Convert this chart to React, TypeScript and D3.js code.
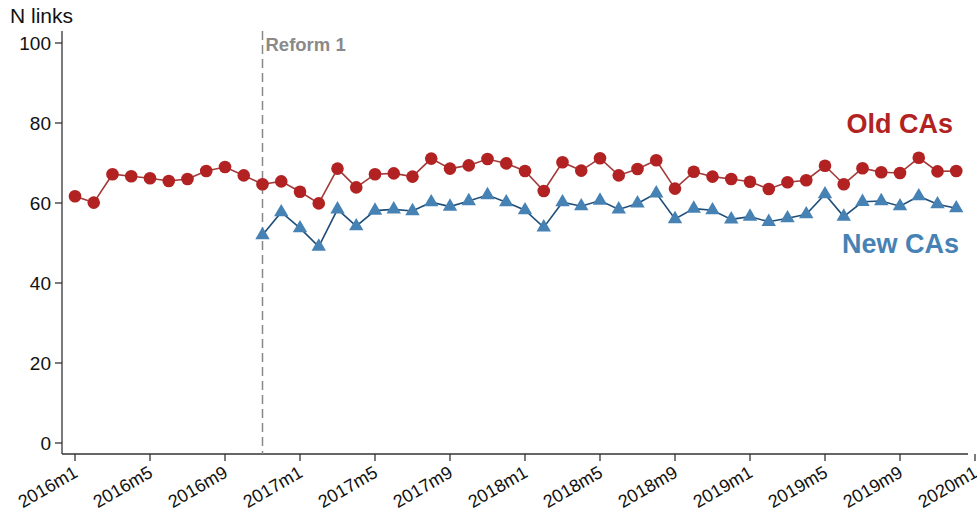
import React, { useEffect, useRef } from "react";
import * as d3 from "d3";

// month index 0 = 2016m1
const tickLabels = ["2016m1", "2016m5", "2016m9", "2017m1", "2017m5", "2017m9", "2018m1", "2018m5", "2018m9", "2019m1", "2019m5", "2019m9", "2020m1"];
const yTicks = [0, 20, 40, 60, 80, 100];

const oldCAs = [
  61.7, 60.1, 67.2, 66.7, 66.2, 65.5, 66.0, 68.0, 69.0, 66.9,
  64.7, 65.4, 62.8, 59.9, 68.6, 63.9, 67.2, 67.4, 66.6, 71.1,
  68.6, 69.4, 71.0, 69.9, 68.0, 63.0, 70.2, 68.1, 71.2, 66.9,
  68.5, 70.7, 63.6, 67.8, 66.6, 66.0, 65.3, 63.5, 65.2, 65.7,
  69.3, 64.7, 68.7, 67.7, 67.5, 71.3, 67.9, 68.0,
];

// New CAs start at 2016m11 (reform 1)
const newStart = 10;
const newCAs = [
  52.0, 57.7, 53.7, 49.1, 58.4, 54.2, 58.1, 58.4, 58.0, 60.2,
  59.1, 60.5, 62.0, 60.2, 58.2, 53.9, 60.2, 59.2, 60.6, 58.4,
  59.9, 62.4, 56.0, 58.6, 58.2, 55.9, 56.6, 55.3, 56.2, 57.2,
  62.2, 56.6, 60.3, 60.5, 59.2, 61.7, 59.7, 58.7,
];

const reformMonth = 10;

export default function App() {
  const ref = useRef<SVGSVGElement>(null);

  useEffect(() => {
    if (!ref.current) return;
    const svg = d3.select(ref.current);
    svg.selectAll("*").remove();

    const font = "'Liberation Sans', Arial, sans-serif";
    const x = d3.scaleLinear().domain([0, 48]).range([75, 975]);
    const y = d3.scaleLinear().domain([0, 100]).range([443, 43]);
    const axisX = 62;
    const axisY = 454;

    // axes
    svg.append("line").attr("x1", axisX).attr("x2", axisX).attr("y1", 31).attr("y2", axisY)
      .attr("stroke", "#333").attr("stroke-width", 1.3);
    svg.append("line").attr("x1", axisX).attr("x2", 968).attr("y1", axisY).attr("y2", axisY)
      .attr("stroke", "#333").attr("stroke-width", 1.3);

    yTicks.forEach((t) => {
      svg.append("line").attr("x1", axisX - 7).attr("x2", axisX).attr("y1", y(t)).attr("y2", y(t))
        .attr("stroke", "#333").attr("stroke-width", 1.3);
      svg.append("text").attr("x", axisX - 11).attr("y", y(t) + 7)
        .attr("text-anchor", "end").style("font-family", font).style("font-size", "19px")
        .attr("fill", "#111").text(t);
    });

    tickLabels.forEach((lab, i) => {
      const xp = x(i * 4);
      svg.append("line").attr("x1", xp).attr("x2", xp).attr("y1", axisY).attr("y2", axisY + 7)
        .attr("stroke", "#333").attr("stroke-width", 1.3);
      svg.append("text")
        .attr("transform", `translate(${xp + 4},${axisY + 22}) rotate(-30)`)
        .attr("text-anchor", "end").style("font-family", font).style("font-size", "18px")
        .attr("fill", "#111").text(lab);
    });

    svg.append("text").attr("x", 10).attr("y", 23).style("font-family", font)
      .style("font-size", "21px").attr("fill", "#111").text("N links");

    // reform line
    svg.append("line").attr("x1", x(reformMonth)).attr("x2", x(reformMonth)).attr("y1", 31).attr("y2", axisY)
      .attr("stroke", "#888").attr("stroke-width", 1.5).attr("stroke-dasharray", "9,5");
    svg.append("text").attr("x", x(reformMonth) + 3).attr("y", 51).style("font-family", font)
      .style("font-size", "18.5px").style("font-weight", "bold").attr("fill", "#8a8a8a").text("Reform 1");

    const line = d3.line<[number, number]>().x((d) => x(d[0])).y((d) => y(d[1]));

    const oldPts: [number, number][] = oldCAs.map((v, i) => [i, v]);
    const newPts: [number, number][] = newCAs.map((v, i) => [i + newStart, v]);

    svg.append("path").attr("d", line(oldPts)).attr("fill", "none")
      .attr("stroke", "#a33a3a").attr("stroke-width", 1.6);
    svg.append("path").attr("d", line(newPts)).attr("fill", "none")
      .attr("stroke", "#1f4e79").attr("stroke-width", 1.6);

    svg.selectAll("circle.old").data(oldPts).enter().append("circle")
      .attr("cx", (d) => x(d[0])).attr("cy", (d) => y(d[1])).attr("r", 6.3)
      .attr("fill", "#b22222");

    const tri = d3.symbol().type(d3.symbolTriangle).size(90);
    svg.selectAll("path.new").data(newPts).enter().append("path")
      .attr("d", tri).attr("transform", (d) => `translate(${x(d[0])},${y(d[1])})`)
      .attr("fill", "#4682b4");

    // series labels
    svg.append("text").attr("x", 953).attr("y", 133).attr("text-anchor", "end")
      .style("font-family", font).style("font-size", "27px").style("font-weight", "bold")
      .attr("fill", "#b22222").text("Old CAs");
    svg.append("text").attr("x", 959).attr("y", 253).attr("text-anchor", "end")
      .style("font-family", font).style("font-size", "27px").style("font-weight", "bold")
      .attr("fill", "#4682b4").text("New CAs");
  }, []);

  return (
    <svg ref={ref} width={977} height={512}
      style={{ position: "absolute", left: 0, top: 0, background: "#fff" }} />
  );
}
